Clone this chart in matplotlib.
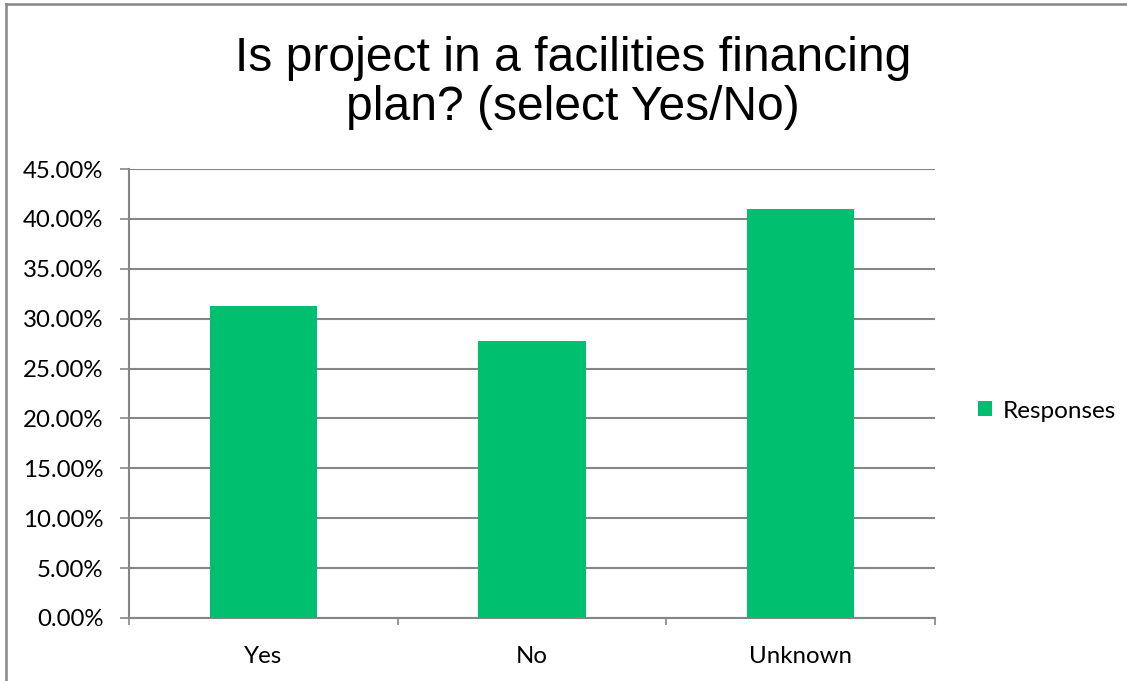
import matplotlib
matplotlib.use("Agg")
import matplotlib.pyplot as plt
from matplotlib.ticker import FuncFormatter, FixedLocator
from matplotlib.lines import Line2D
from matplotlib.patches import Patch

categories = ["Yes", "No", "Unknown"]
responses = [31.25, 27.78, 40.97]
yticks = [0, 5, 10, 15, 20, 25, 30, 35, 40, 45]
series_name = "Responses"
title = "Is project in a facilities financing\nplan? (select Yes/No)"

GREEN = "#00BF6F"
GREY = "#868686"
W, H = 1127, 681

fig = plt.figure(figsize=(W / 100, H / 100), dpi=100)
ax = fig.add_axes([129 / W, 1 - 618 / H, (935 - 129) / W, (618 - 169) / H])

x = list(range(len(categories)))
ax.bar(x, responses, width=0.4, color=GREEN, zorder=3)
ax.set_xlim(-0.5, len(categories) - 0.5)
ax.set_ylim(0, 45)
ax.set_yticks(yticks)
ax.yaxis.set_major_formatter(FuncFormatter(lambda v, p: f"{v:.2f}%"))
ax.set_xticks(x)
ax.set_xticklabels(categories)
ax.xaxis.set_minor_locator(FixedLocator([i - 0.5 for i in range(len(categories) + 1)]))

ax.grid(axis="y", color=GREY, linewidth=1.5, zorder=0)
ax.set_axisbelow(True)
for s in ["top", "right"]:
    ax.spines[s].set_visible(False)
for s in ["left", "bottom"]:
    ax.spines[s].set_color(GREY)
    ax.spines[s].set_linewidth(1.5)

tickfont = "Lato"
ax.tick_params(axis="y", direction="out", length=6.5, width=1.2, color=GREY,
               pad=12, labelsize=17.3, labelcolor="black")
ax.tick_params(axis="x", which="major", length=0, pad=20, labelsize=17.3, labelcolor="black")
ax.tick_params(axis="x", which="minor", direction="out", length=5, width=1.2, color=GREY)
for lab in ax.get_xticklabels() + ax.get_yticklabels():
    lab.set_fontfamily(tickfont)

fig.text(573 / W, 1 - 83 / H, title, ha="center", va="center",
         fontsize=34.6, family="Liberation Sans", linespacing=1.1)

leg = fig.legend(handles=[Patch(facecolor=GREEN, label=series_name)],
                 loc="center left", bbox_to_anchor=(978 / W, 1 - 411 / H),
                 frameon=False, prop={"family": tickfont, "size": 17.5},
                 handlelength=0.58, handleheight=0.58, handletextpad=0.45,
                 borderaxespad=0, borderpad=0)

fig.add_artist(Line2D([6 / W, 6 / W], [0, 1 - 4 / H], transform=fig.transFigure,
                      color=GREY, linewidth=1.8))
fig.add_artist(Line2D([6 / W, 1], [1 - 4 / H, 1 - 4 / H], transform=fig.transFigure,
                      color=GREY, linewidth=1.8))

fig.savefig("out.png", dpi=100, facecolor="white")
